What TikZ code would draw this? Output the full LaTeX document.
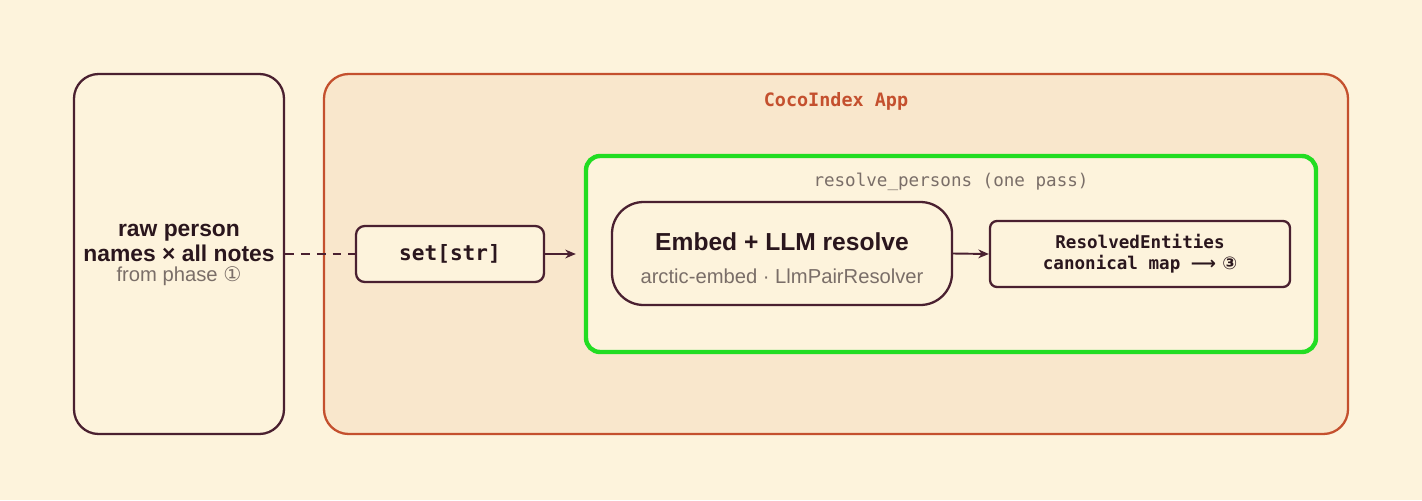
\documentclass[tikz,border=0pt]{standalone}
\usepackage{fontspec}
\setmainfont{Liberation Sans}
\setmonofont{DejaVu Sans Mono}
\newfontfamily\symf{DejaVu Sans}
\usetikzlibrary{arrows.meta}
\definecolor{bg}{HTML}{FDF3DC}
\definecolor{appfill}{HTML}{F9E7CC}
\definecolor{ink}{HTML}{4A2030}
\definecolor{txt}{HTML}{2A161D}
\definecolor{org}{HTML}{C4502E}
\definecolor{grn}{HTML}{22DD22}
\definecolor{gry}{HTML}{7A6E68}
\tikzset{
 box/.style={draw=ink,line width=1.3pt,fill=bg},
 lbl/.style={text=txt,font=\bfseries,align=center},
 arr/.style={draw=ink,line width=1.1pt,-{Stealth[length=6pt,width=5pt]}},
}
\begin{document}
\begin{tikzpicture}[x=0.02cm,y=-0.02cm]
\fill[bg] (0,0) rectangle (1422,500);
\useasboundingbox (0,0) rectangle (1422,500);
\node[box,rounded corners=14,minimum width=210*0.02cm,minimum height=360*0.02cm] (raw) at (179,254) {};
\node[lbl,font=\bfseries\fontsize{13}{14.5}\selectfont] (rawt) at (179,243) {raw person\\names × all notes};
\node[text=gry,font=\fontsize{11.5}{13}\selectfont] (rawf) at (179,276) {from phase {\symf ①}};
\node[draw=org,line width=1.3pt,fill=appfill,rounded corners=14,minimum width=1024*0.02cm,minimum height=360*0.02cm] (app) at (836,254) {};
\node[text=org,font=\ttfamily\bfseries\fontsize{10.5}{13}\selectfont] (appt) at (836,101) {CocoIndex App};
\node[box,rounded corners=5,minimum width=188*0.02cm,minimum height=56*0.02cm,font=\ttfamily\bfseries\fontsize{12}{14}\selectfont,text=txt] (set) at (450,254) {set[str]};
\node[draw=grn,line width=2.5pt,fill=bg,rounded corners=8,minimum width=730*0.02cm,minimum height=196*0.02cm] (res) at (951,254) {};
\node[text=gry,font=\ttfamily\fontsize{10}{12}\selectfont] (rest) at (951,182) {resolve\_persons (one pass)};
\node[box,rounded corners=18,minimum width=340*0.02cm,minimum height=103*0.02cm] (emb) at (782,253.5) {};
\node[lbl,font=\bfseries\fontsize{14}{17}\selectfont] (embt) at (782,242) {Embed + LLM resolve};
\node[text=gry,font=\fontsize{11.5}{14}\selectfont] (embs) at (782,276) {arctic-embed · LlmPairResolver};
\node[box,rounded corners=4,minimum width=300*0.02cm,minimum height=66*0.02cm] (out) at (1140,254) {};
\node[lbl,font=\ttfamily\bfseries\fontsize{10}{12}\selectfont] (outt) at (1140,254) {ResolvedEntities\\canonical map {\symf ⟶ ③}};
\draw[ink,line width=1.3pt,dash pattern=on 5pt off 4pt] (raw.east) -- (set.west);
\draw[arr] (set.east) -- ([xshift=-8*0.02cm]res.west);
\draw[arr] (emb.east) -- (out.west);
\end{tikzpicture}
\end{document}
